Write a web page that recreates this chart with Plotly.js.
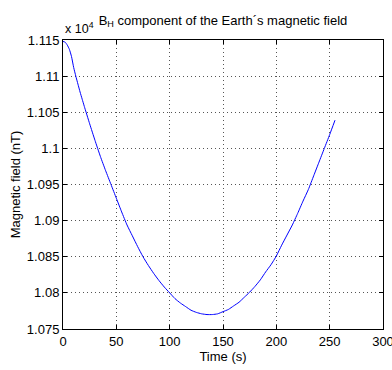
<!DOCTYPE html>
<html>
<head>
<meta charset="utf-8">
<script src="https://cdn.plot.ly/plotly-3.0.1.min.js"></script>
<style>html,body{margin:0;padding:0;background:#fff;}#chart{width:392px;height:370px;}</style>
</head>
<body>
<div id="chart"></div>
<script>
// Time (s)
var timeS = [0, 2, 4, 6, 8, 10, 12, 14, 16, 18, 20, 25, 30, 35, 40, 45, 50, 55, 60, 65, 70, 75, 80, 85, 90, 95, 100,
  105, 110, 115, 120, 125, 130, 135, 140, 145, 150, 155, 160, 165, 170, 175, 180, 185, 190, 195, 200,
  205, 210, 215, 220, 225, 230, 235, 240, 245, 250, 255];
// B_H field (nT)
var fieldNT = [11148, 11147, 11143, 11137, 11127, 11112, 11100, 11089, 11078, 11068, 11058, 11034, 11011, 10989, 10969, 10950, 10931, 10912, 10894, 10879, 10864, 10850, 10838, 10827, 10817, 10808, 10800,
  10792, 10786, 10781, 10776, 10773, 10771, 10770, 10770, 10771, 10774, 10777, 10782, 10787, 10794, 10801, 10809, 10818, 10829, 10839, 10851,
  10866, 10880, 10894, 10910, 10927, 10943, 10962, 10981, 11000, 11019, 11039];
var yScale = 1e4;
var xTicks = [0, 50, 100, 150, 200, 250, 300];
var yTickVals = [1.075, 1.08, 1.085, 1.09, 1.095, 1.1, 1.105, 1.11, 1.115];
var yTickText = ['1.075', '1.08', '1.085', '1.09', '1.095', '1.1', '1.105', '1.11', '1.115'];

var yPlot = fieldNT.map(function (v) { return v / yScale; });

var fam = 'Liberation Sans, Arial, sans-serif';
var font = {family: fam, size: 13, color: '#000'};

var trace = {
  x: timeS, y: yPlot, type: 'scatter', mode: 'lines',
  line: {color: '#0000ff', width: 1, shape: 'spline', smoothing: 0.5},
  hoverinfo: 'none'
};

var axisCommon = {
  showline: true, linecolor: '#000', linewidth: 1, mirror: 'ticks',
  ticks: 'inside', ticklen: 4, tickcolor: '#000', tickwidth: 1,
  showgrid: true, gridcolor: '#555', griddash: '1px,3px', gridwidth: 1,
  zeroline: false, tickfont: font, fixedrange: true,
  ticklabeloverflow: 'allow', automargin: false
};

var layout = {
  width: 392, height: 370,
  margin: {l: 63, r: 9, t: 40, b: 41},
  paper_bgcolor: '#fff', plot_bgcolor: '#fff',
  showlegend: false,
  font: font,
  title: {
    text: 'B<sub>H</sub> component of the Earth´s magnetic field',
    font: {family: fam, size: 13, color: '#000'},
    x: 0.5, xref: 'paper', xanchor: 'center',
    y: 0.946, yref: 'container', yanchor: 'middle'
  },
  xaxis: Object.assign({}, axisCommon, {
    range: [0, 300], tickvals: xTicks, ticktext: xTicks.map(String),
    title: {text: 'Time (s)', font: font, standoff: 4}
  }),
  yaxis: Object.assign({}, axisCommon, {
    range: [1.075, 1.115], tickvals: yTickVals, ticktext: yTickText,
    title: {text: 'Magnetic field (nT)', font: font, standoff: 3}
  }),
  annotations: [{
    text: 'x 10<sup>4</sup>', xref: 'paper', yref: 'paper', x: 0, y: 1,
    xanchor: 'left', yanchor: 'bottom', yshift: 2, showarrow: false,
    font: {family: fam, size: 12.5, color: '#000'}
  }]
};

Plotly.newPlot('chart', [trace], layout, {staticPlot: true, displayModeBar: false});
</script>
</body>
</html>
